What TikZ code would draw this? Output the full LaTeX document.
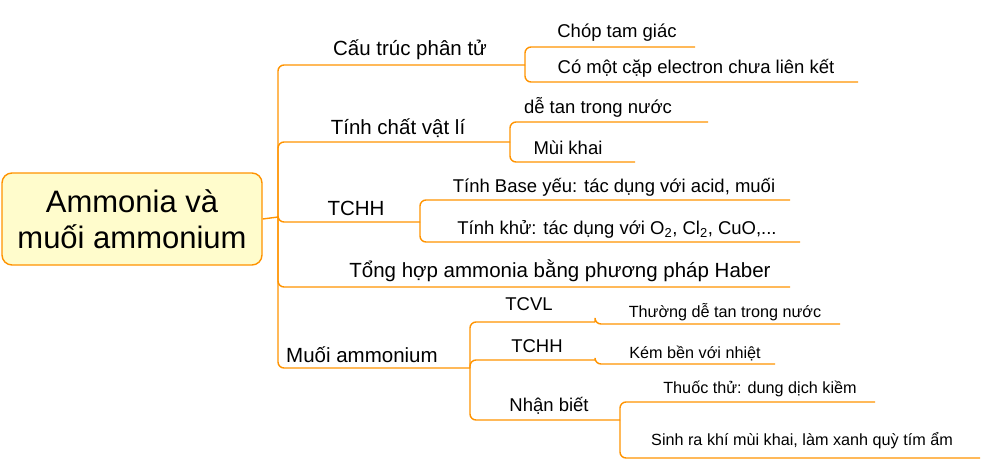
\documentclass[tikz,border=0pt]{standalone}
\usepackage{fontspec}
\setmainfont{Liberation Sans}
\begin{document}
\begin{tikzpicture}[x=1pt,y=-1pt,
  branch/.style={draw=orange!85!yellow,line width=1.4pt,rounded corners=6pt},
  lone/.style={font=\fontsize{20.5}{22}\selectfont,inner sep=1pt},
  ltwo/.style={font=\fontsize{18.5}{20}\selectfont,inner sep=1pt},
  lthree/.style={font=\fontsize{16.2}{18}\selectfont,inner sep=1pt}]
\useasboundingbox (0,0) rectangle (984,474);
% Root
\node[draw=orange!85!yellow,line width=1.4pt,fill=yellow!20,rounded corners=10pt,
      minimum width=260pt,minimum height=92pt,align=center,
      font=\fontsize{31}{36}\selectfont] (root) at (132,219) {Ammonia và\\muối ammonium};
\coordinate (j0) at (278,217);
\draw[branch] (root.east) -- (j0);

% Level 1
\coordinate (cauE) at (525,65);   \node[lone] (cau) at (410,50) {Cấu trúc phân tử};
\coordinate (tinhE) at (510,142); \node[lone] (tinh) at (398,128) {Tính chất vật lí};
\coordinate (tchhE) at (420,222); \node[lone] (tchh) at (356,208) {TCHH};
\coordinate (tongE) at (790,287); \node[lone] (tong) at (560,271) {Tổng hợp ammonia bằng phương pháp Haber};
\coordinate (muoiE) at (470,368); \node[lone] (muoi) at (362,355) {Muối ammonium};
\foreach \e in {cauE,tinhE,tchhE,tongE,muoiE}
  \draw[branch] (j0) |- (\e);

% Level 2
\coordinate (chopE) at (695,47);  \node[ltwo] (chop) at (617,33) {Chóp tam giác};
\coordinate (capE) at (858,82);   \node[ltwo] (cap) at (696,68) {Có một cặp electron chưa liên kết};
\coordinate (deE) at (708,122);   \node[ltwo] (de) at (598,107) {dễ tan trong nước};
\coordinate (muiE) at (635,162);  \node[ltwo] (mui) at (568,148) {Mùi khai};
\coordinate (baseE) at (790,200); \node[ltwo] (base) at (614,187) {Tính Base yếu: tác dụng với acid, muối};
\coordinate (khuE) at (800,242);  \node[ltwo] (khu) at (617,229) {Tính khử: tác dụng với O\textsubscript{2}, Cl\textsubscript{2}, CuO,...};
\coordinate (tcvlE) at (595,322); \node[ltwo] (tcvl) at (529,304) {TCVL};
\coordinate (tchhbE) at (595,360);\node[ltwo] (tchhb) at (537,346) {TCHH};
\coordinate (nhanE) at (620,420); \node[ltwo] (nhan) at (549,406) {Nhận biết};
\foreach \p/\e in {cauE/chopE,cauE/capE,tinhE/deE,tinhE/muiE,tchhE/baseE,tchhE/khuE,
                   muoiE/tcvlE,muoiE/tchhbE,muoiE/nhanE}
  \draw[branch] (\p) |- (\e);

% Level 3
\coordinate (thuongE) at (840,324); \node[lthree] (thuong) at (725,312) {Thường dễ tan trong nước};
\coordinate (kemE) at (775,364);    \node[lthree] (kem) at (695,353) {Kém bền với nhiệt};
\coordinate (thuocE) at (875,402);  \node[lthree] (thuoc) at (760,389) {Thuốc thử: dung dịch kiềm};
\coordinate (sinhE) at (980,458);   \node[lthree] (sinh) at (802,441) {Sinh ra khí mùi khai, làm xanh quỳ tím ẩm};
\foreach \p/\e in {tcvlE/thuongE,tchhbE/kemE,nhanE/thuocE,nhanE/sinhE}
  \draw[branch] (\p) |- (\e);
\end{tikzpicture}
\end{document}
